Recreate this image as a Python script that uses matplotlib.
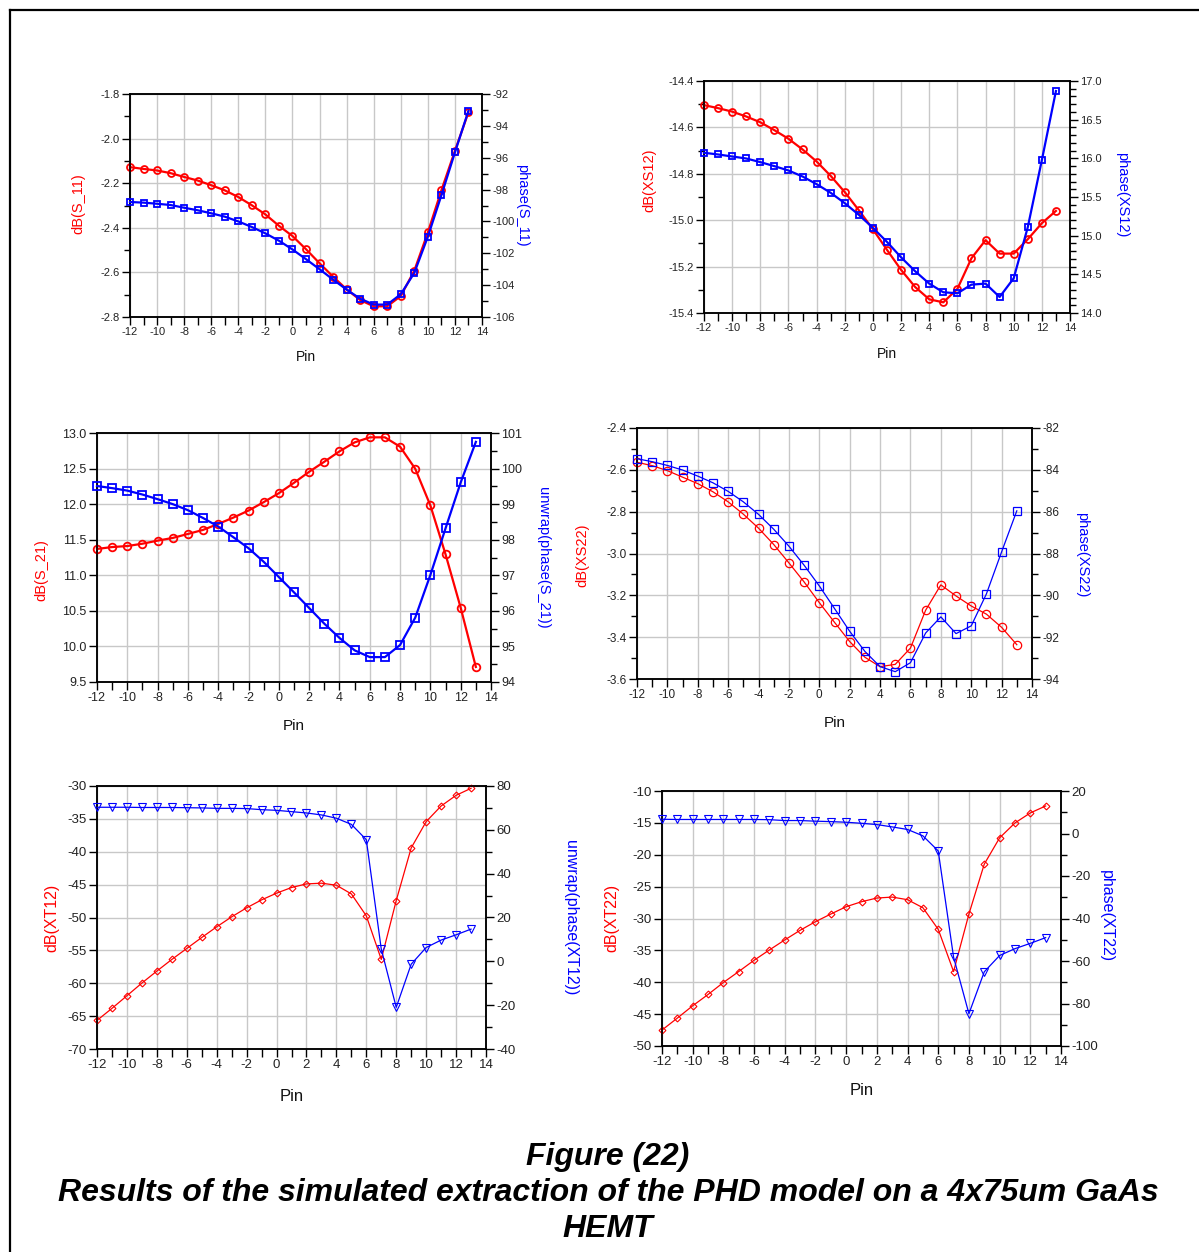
import matplotlib
matplotlib.use("Agg")
import matplotlib.pyplot as plt
from matplotlib.lines import Line2D
from matplotlib.ticker import MultipleLocator, FormatStrFormatter
import numpy as np

plt.rcParams['font.family'] = ['Liberation Sans', 'DejaVu Sans']
plt.rcParams['axes.unicode_minus'] = False

pin = list(range(-12, 14))

# Plot 1: S_11
s11_db = [-2.128, -2.136, -2.143, -2.155, -2.172, -2.188, -2.209, -2.232, -2.262, -2.299,
          -2.340, -2.391, -2.437, -2.496, -2.559, -2.619, -2.676, -2.724, -2.752, -2.752,
          -2.706, -2.592, -2.421, -2.232, -2.055, -1.882]
s11_ph = [-98.78, -98.82, -98.89, -98.97, -99.14, -99.30, -99.49, -99.70, -100.0, -100.35,
          -100.75, -101.21, -101.76, -102.37, -103.0, -103.65, -104.28, -104.85, -105.22, -105.22,
          -104.57, -103.23, -100.96, -98.36, -95.67, -93.05]
# Plot 2: XS12
xs12_db = [-14.504, -14.517, -14.532, -14.553, -14.578, -14.612, -14.649, -14.695, -14.747, -14.809,
           -14.879, -14.957, -15.039, -15.128, -15.214, -15.288, -15.341, -15.354, -15.296, -15.164,
           -15.086, -15.144, -15.144, -15.082, -15.013, -14.960]
xs12_ph = [16.072, 16.050, 16.024, 15.998, 15.951, 15.899, 15.843, 15.765, 15.666, 15.554,
           15.420, 15.269, 15.101, 14.919, 14.720, 14.540, 14.380, 14.268, 14.255, 14.367,
           14.380, 14.207, 14.449, 15.109, 15.977, 16.870]
# Plot 3: S_21
s21_db = [11.370, 11.397, 11.411, 11.444, 11.487, 11.525, 11.581, 11.638, 11.722, 11.811,
          11.910, 12.028, 12.154, 12.300, 12.455, 12.596, 12.742, 12.868, 12.939, 12.939,
          12.807, 12.497, 11.981, 11.295, 10.543, 9.712]
s21_ph = [99.51, 99.45, 99.38, 99.27, 99.14, 99.00, 98.83, 98.61, 98.37, 98.07,
          97.76, 97.38, 96.95, 96.52, 96.08, 95.64, 95.24, 94.89, 94.70, 94.70,
          95.04, 95.81, 97.01, 98.32, 99.61, 100.75]
# Plot 4: XS22
xs22_db = [-2.564, -2.580, -2.604, -2.635, -2.666, -2.705, -2.753, -2.812, -2.879, -2.957,
           -3.045, -3.136, -3.235, -3.329, -3.421, -3.496, -3.541, -3.530, -3.452, -3.271,
           -3.150, -3.203, -3.251, -3.290, -3.353, -3.436]
xs22_ph = [-83.47, -83.61, -83.79, -84.01, -84.30, -84.62, -85.03, -85.53, -86.13, -86.84,
           -87.65, -88.56, -89.55, -90.63, -91.72, -92.68, -93.41, -93.65, -93.22, -91.80,
           -91.03, -91.83, -91.46, -89.93, -87.92, -85.96]
# Plot 5: XT12
xt12_db = [-65.65, -63.82, -61.90, -59.97, -58.15, -56.38, -54.71, -53.04, -51.42, -49.90,
           -48.53, -47.32, -46.30, -45.44, -44.89, -44.78, -45.09, -46.41, -49.75, -56.38,
           -47.42, -39.42, -35.42, -33.04, -31.42, -30.35]
xt12_ph = [70.3, 70.3, 70.3, 70.2, 70.2, 70.2, 70.1, 70.0, 69.8, 69.8,
           69.7, 69.2, 68.9, 68.3, 67.7, 66.8, 65.3, 62.5, 55.5, 5.6,
           -21.0, -1.3, 6.3, 9.7, 12.1, 14.7]
# Plot 6: XT22
xt22_db = [-47.50, -45.62, -43.69, -41.92, -40.04, -38.32, -36.55, -34.93, -33.36, -31.85,
           -30.50, -29.30, -28.15, -27.37, -26.79, -26.64, -27.05, -28.31, -31.70, -38.32,
           -29.30, -21.47, -17.35, -15.01, -13.44, -12.35]
xt22_ph = [6.7, 6.6, 6.6, 6.6, 6.6, 6.6, 6.6, 6.5, 6.1, 6.1,
           5.8, 5.6, 5.3, 4.8, 4.2, 3.1, 1.9, -1.1, -8.2, -58.2,
           -84.8, -65.1, -57.4, -54.2, -51.7, -49.0]

RED = '#ff0000'
BLUE = '#0000ff'
W, H = 1199, 1252

fig = plt.figure(figsize=(W / 100, H / 100), dpi=100)

# border frame
fig.add_artist(Line2D([10 / W, 10 / W], [0, 1 - 10 / H], transform=fig.transFigure, color='black', lw=1.6))
fig.add_artist(Line2D([10 / W, 1], [1 - 10 / H, 1 - 10 / H], transform=fig.transFigure, color='black', lw=1.6))

panels = [
    dict(box=(130, 482, 94, 317), ydb=s11_db, yph=s11_ph, lab_l='dB(S_11)', lab_r='phase(S_11)',
         ylim_l=(-2.8, -1.8), maj_l=0.2, min_l=0.1, fmt_l='%.1f',
         ylim_r=(-106, -92), maj_r=2, min_r=1, fmt_r='%d',
         mk=('o', 's'), ms=5, mew=1.3, lw=1.6, fs_tick=8, fs_lab=10.5, fs_pin=10,
         lc_l=(-0.148, 0.507), lc_r=(1.114, 0.50), pin_y=-0.18),
    dict(box=(704, 1070, 81, 313), ydb=xs12_db, yph=xs12_ph, lab_l='dB(XS12)', lab_r='phase(XS12)',
         ylim_l=(-15.4, -14.4), maj_l=0.2, min_l=0.1, fmt_l='%.1f',
         ylim_r=(14.0, 17.0), maj_r=0.5, min_r=0.1, fmt_r='%.1f',
         mk=('o', 's'), ms=5, mew=1.3, lw=1.6, fs_tick=8, fs_lab=10.5, fs_pin=10,
         lc_l=(-0.148, 0.573), lc_r=(1.142, 0.51), pin_y=-0.177),
    dict(box=(97, 491, 433, 682), ydb=s21_db, yph=s21_ph, lab_l='dB(S_21)', lab_r='unwrap(phase(S_21))',
         ylim_l=(9.5, 13.0), maj_l=0.5, min_l=None, fmt_l='%.1f',
         ylim_r=(94, 101), maj_r=1, min_r=0.5, fmt_r='%d',
         mk=('o', 's'), ms=5.5, mew=1.3, lw=1.6, fs_tick=9, fs_lab=10.5, fs_pin=11,
         lc_l=(-0.14, 0.45), lc_r=(1.132, 0.50), pin_y=-0.177),
    dict(box=(637, 1032, 428, 679), ydb=xs22_db, yph=xs22_ph, lab_l='dB(XS22)', lab_r='phase(XS22)',
         ylim_l=(-3.6, -2.4), maj_l=0.2, min_l=0.1, fmt_l='%.1f',
         ylim_r=(-94, -82), maj_r=2, min_r=1, fmt_r='%d',
         mk=('o', 's'), ms=6, mew=0.9, lw=0.9, fs_tick=8.5, fs_lab=10.5, fs_pin=11,
         lc_l=(-0.139, 0.494), lc_r=(1.127, 0.494), pin_y=-0.175),
    dict(box=(97, 486, 786, 1049), ydb=xt12_db, yph=xt12_ph, lab_l='dB(XT12)', lab_r='unwrap(phase(XT12))',
         ylim_l=(-70, -30), maj_l=5, min_l=None, fmt_l='%d',
         ylim_r=(-40, 80), maj_r=20, min_r=10, fmt_r='%d',
         mk=('D', 'v'), ms=(3.5, 5.5), mew=0.8, lw=0.9, fs_tick=9.5, fs_lab=11.5, fs_pin=12,
         lc_l=(-0.116, 0.498), lc_r=(1.216, 0.498), pin_y=-0.179),
    dict(box=(662, 1061, 791, 1046), ydb=xt22_db, yph=xt22_ph, lab_l='dB(XT22)', lab_r='phase(XT22)',
         ylim_l=(-50, -10), maj_l=5, min_l=None, fmt_l='%d',
         ylim_r=(-100, 20), maj_r=20, min_r=10, fmt_r='%d',
         mk=('D', 'v'), ms=(3.5, 5.5), mew=0.8, lw=0.9, fs_tick=9.5, fs_lab=11.5, fs_pin=12,
         lc_l=(-0.125, 0.502), lc_r=(1.115, 0.51), pin_y=-0.176),
]

for p in panels:
    l, r, t, b = p['box']
    ax = fig.add_axes([l / W, 1 - b / H, (r - l) / W, (b - t) / H])
    ax2 = ax.twinx()
    ax.set_zorder(ax2.get_zorder() - 1)
    ax2.patch.set_visible(False)

    ms = p['ms'] if isinstance(p['ms'], tuple) else (p['ms'], p['ms'])
    ax.plot(pin, p['ydb'], color=RED, lw=p['lw'], marker=p['mk'][0], ms=ms[0],
            mfc='none', mec=RED, mew=p['mew'], clip_on=False, zorder=3)
    ax2.plot(pin, p['yph'], color=BLUE, lw=p['lw'], marker=p['mk'][1], ms=ms[1],
             mfc='none', mec=BLUE, mew=p['mew'], clip_on=False, zorder=3)

    ax.set_xlim(-12, 14)
    ax.xaxis.set_major_locator(MultipleLocator(2))
    ax.xaxis.set_minor_locator(MultipleLocator(1))
    ax.set_ylim(*p['ylim_l'])
    ax.yaxis.set_major_locator(MultipleLocator(p['maj_l']))
    if p['min_l']:
        ax.yaxis.set_minor_locator(MultipleLocator(p['min_l']))
    ax.yaxis.set_major_formatter(FormatStrFormatter(p['fmt_l']))
    ax2.set_ylim(*p['ylim_r'])
    ax2.yaxis.set_major_locator(MultipleLocator(p['maj_r']))
    ax2.yaxis.set_minor_locator(MultipleLocator(p['min_r']))
    ax2.yaxis.set_major_formatter(FormatStrFormatter(p['fmt_r']))

    ax.grid(True, which='major', color='#c8c8c8', lw=1.0)
    ax.set_axisbelow(True)

    for a in (ax, ax2):
        for s in a.spines.values():
            s.set_color('black')
            s.set_linewidth(1.1)
        a.tick_params(which='major', direction='out', length=6, width=1.0,
                      labelsize=p['fs_tick'], pad=1.5, labelcolor='#222222')
        a.tick_params(which='minor', direction='out', length=4, width=1.0)
    ax.tick_params(axis='x', which='minor', length=6)

    ax.set_xlabel('Pin', fontsize=p['fs_pin'], color='#111111')
    ax.xaxis.set_label_coords(0.5, p['pin_y'])
    ax.xaxis.label.set_va('center')

    ax.set_ylabel(p['lab_l'], color=RED, fontsize=p['fs_lab'])
    ax.yaxis.set_label_coords(*p['lc_l'])
    ax.yaxis.label.set_va('center')
    ax2.set_ylabel(p['lab_r'], color=BLUE, fontsize=p['fs_lab'], rotation=270)
    ax2.yaxis.set_label_coords(*p['lc_r'])
    ax2.yaxis.label.set_va('center')
    ax2.yaxis.label.set_ha('center')

cap_kw = dict(ha='center', va='center', fontsize=23, fontweight='bold', fontstyle='italic', color='black')
fig.text(608 / W, 1 - 1157 / H, 'Figure (22)', **cap_kw)
fig.text(608 / W, 1 - 1193 / H, 'Results of the simulated extraction of the PHD model on a 4x75um GaAs', **cap_kw)
fig.text(608 / W, 1 - 1229 / H, 'HEMT', **cap_kw)

fig.savefig('out.png', dpi=100)
